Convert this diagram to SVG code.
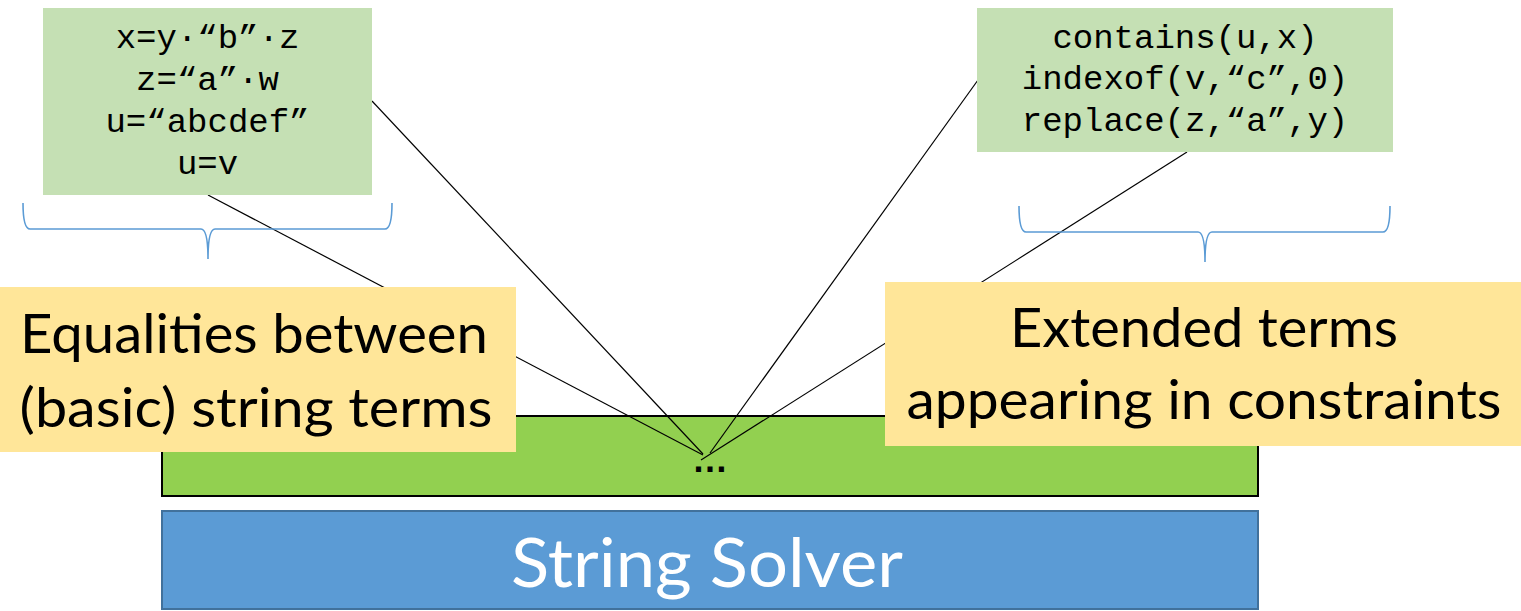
<svg xmlns="http://www.w3.org/2000/svg" width="1521" height="611" viewBox="0 0 1521 611">
<style>
.mono{font-family:"Liberation Mono","Courier New",monospace;font-size:34px;fill:#000;text-anchor:middle}
.lbl{font-family:Lato,"Open Sans",sans-serif;font-size:55px;fill:#000;text-anchor:middle}
.conn{stroke:#000;stroke-width:1.2;fill:none}
.brace{stroke:#5b9bd5;stroke-width:1.6;fill:none}
.term{fill:#c5e0b4}
.note{fill:#ffe699}
</style>
<rect width="1521" height="611" fill="#fff"/>
<g id="layer">
<rect x="162" y="416" width="1096" height="80" fill="#92d050" stroke="#000" stroke-width="2"/>
<text x="710" y="472" font-family="'Liberation Sans',Arial,sans-serif" font-weight="bold" font-size="36" text-anchor="middle">…</text>
</g>
<g id="solver">
<rect x="162" y="511" width="1096" height="98" fill="#5b9bd5" stroke="#41719c" stroke-width="2"/>
<text x="707" y="587" font-family="Lato,'Open Sans',sans-serif" font-size="68" fill="#fff" text-anchor="middle" textLength="392" lengthAdjust="spacingAndGlyphs">String Solver</text>
</g>
<g id="connectors">
<line class="conn" x1="208" y1="195" x2="703" y2="455"/>
<line class="conn" x1="372" y1="101" x2="703" y2="454"/>
<line class="conn" x1="978" y1="80" x2="710" y2="453"/>
<line class="conn" x1="1187" y1="152" x2="701" y2="460"/>
</g>
<g id="basic-terms">
<rect class="term" x="43" y="8" width="329" height="187"/>
<text class="mono" x="207.5" y="48">x=y·“b”·z</text>
<text class="mono" x="207.5" y="90">z=“a”·w</text>
<text class="mono" x="207.5" y="132">u=“abcdef”</text>
<text class="mono" x="207.5" y="174">u=v</text>
</g>
<g id="extended-terms">
<rect class="term" x="977" y="8" width="416" height="144"/>
<text class="mono" x="1185" y="48">contains(u,x)</text>
<text class="mono" x="1185" y="89">indexof(v,“c”,0)</text>
<text class="mono" x="1185" y="131">replace(z,“a”,y)</text>
</g>
<g id="left-brace">
<path class="brace" d="M23,203 Q23,229 30,229 L201,229 Q208,229 208,259 Q208,229 215,229 L385,229 Q392,229 392,203"/>
</g>
<g id="right-brace">
<path class="brace" d="M1019,206 Q1019,232 1026,232 L1198,232 Q1205,232 1205,262 Q1205,232 1212,232 L1383,232 Q1390,232 1390,206"/>
</g>
<g id="equalities-label">
<rect class="note" x="0" y="287" width="516" height="165"/>
<text class="lbl" x="254" y="353" textLength="468" lengthAdjust="spacingAndGlyphs">Equalities between</text>
<text class="lbl" x="256" y="427" textLength="473" lengthAdjust="spacingAndGlyphs">(basic) string terms</text>
</g>
<g id="extended-label">
<rect class="note" x="885" y="282" width="636" height="164"/>
<text class="lbl" x="1204" y="347" textLength="388" lengthAdjust="spacingAndGlyphs">Extended terms</text>
<text class="lbl" x="1204" y="419" textLength="595" lengthAdjust="spacingAndGlyphs">appearing in constraints</text>
</g>
</svg>
